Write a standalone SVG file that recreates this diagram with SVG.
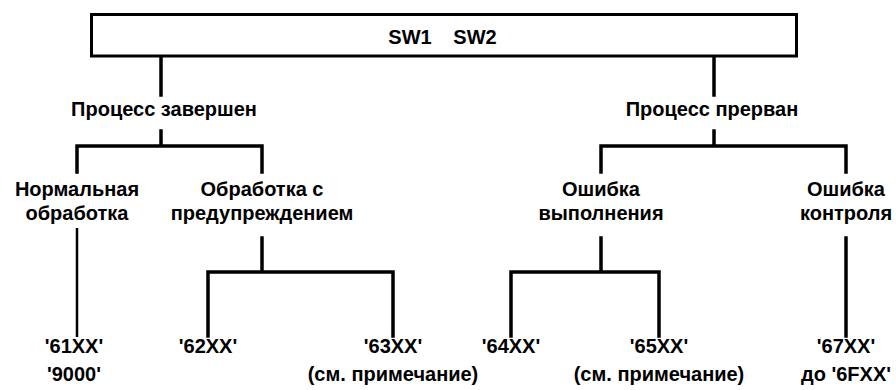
<svg xmlns="http://www.w3.org/2000/svg" width="896" height="390" viewBox="0 0 896 390">
<style>
  .t { font-family: "Liberation Sans", Arial, sans-serif; font-weight: bold; font-size: 20px; fill: #000; text-anchor: middle; }
  .ln { stroke: #000; stroke-width: 3.5; fill: none; stroke-linecap: square; }
  .thin { stroke: #000; stroke-width: 2.5; fill: none; }
  .box { fill: #fff; stroke: #000; stroke-width: 3; }
</style>
<rect width="896" height="390" fill="#fff"/>
<g id="connectors">
  <path class="ln" d="M161 57 V95 M161 131 V146 M77 146 H262 M77 146 V172 M262 146 V172"/>
  <path class="ln" d="M714 57 V95 M714 131 V146 M601 146 H846 M601 146 V172 M846 146 V172"/>
  <path class="thin" d="M77 228 V337"/>
  <path class="ln" d="M262 238 V272 M208 272 H393 M208 272 V336 M393 272 V336"/>
  <path class="ln" d="M601 238 V272 M511 272 H659 M511 272 V336 M659 272 V336"/>
  <path class="ln" d="M846 238 V336"/>
</g>
<g id="root">
  <rect class="box" x="91.5" y="14.5" width="705" height="41.5"/>
  <text class="t" x="410" y="44">SW1</text>
  <text class="t" x="475" y="44">SW2</text>
</g>
<g id="done"><text class="t" x="164" y="116">Процесс завершен</text></g>
<g id="aborted"><text class="t" x="712" y="116">Процесс прерван</text></g>
<g id="normal"><text class="t" x="77" y="196">Нормальная</text><text class="t" x="77" y="220">обработка</text></g>
<g id="warning"><text class="t" x="262" y="196">Обработка с</text><text class="t" x="262" y="220">предупреждением</text></g>
<g id="exec-error"><text class="t" x="601" y="196">Ошибка</text><text class="t" x="601" y="220">выполнения</text></g>
<g id="check-error"><text class="t" x="846" y="196">Ошибка</text><text class="t" x="846" y="220">контроля</text></g>
<g id="c61"><text class="t" x="74" y="353">'61XX'</text><text class="t" x="74" y="381">'9000'</text></g>
<g id="c62"><text class="t" x="208" y="353">'62XX'</text></g>
<g id="c63"><text class="t" x="393" y="353">'63XX'</text><text class="t" x="393" y="381">(см. примечание)</text></g>
<g id="c64"><text class="t" x="511" y="353">'64XX'</text></g>
<g id="c65"><text class="t" x="659" y="353">'65XX'</text><text class="t" x="659" y="381">(см. примечание)</text></g>
<g id="c67"><text class="t" x="846" y="353">'67XX'</text><text class="t" x="846" y="381">до '6FXX'</text></g>
</svg>
